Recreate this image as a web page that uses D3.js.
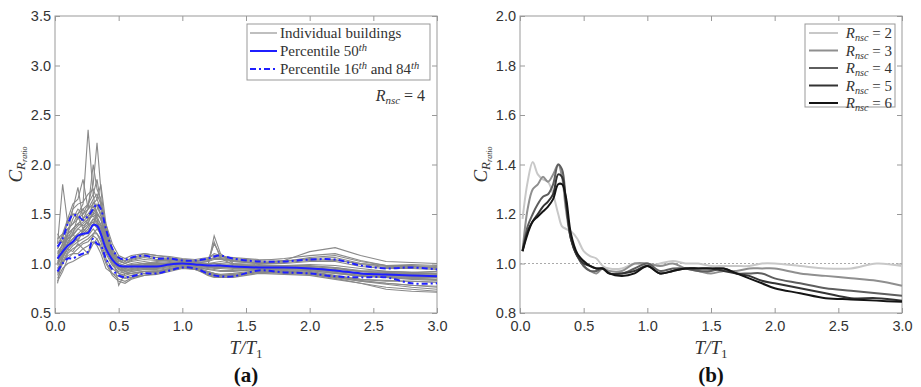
<!DOCTYPE html>
<html>
<head>
<meta charset="utf-8">
<script src="https://cdn.jsdelivr.net/npm/d3@7"></script>
<style>
  body { margin: 0; background: #fff; }
  svg { display: block; }
  .tick text { font-family: "Liberation Sans", Arial, sans-serif; font-size: 14.5px; fill: #333; }
  .tick line { stroke: #999; }
  text.serif, tspan { font-family: "Liberation Serif", "DejaVu Serif", serif; }
  text.serif { fill: #333; }
</style>
</head>
<body>
<svg id="chart" width="921" height="387"></svg>
<script>
// ---- panel (a) data ----
const tA = [0.02,0.06,0.1,0.14,0.18,0.22,0.26,0.3,0.33,0.36,0.4,0.45,0.5,0.55,0.6,0.7,0.8,0.9,1.0,1.1,1.2,1.25,1.3,1.4,1.6,1.8,2.0,2.2,2.4,2.6,2.8,3.0];

const buildings = [
  [1.10,1.20,1.35,1.40,1.50,1.60,2.35,1.70,1.45,1.30,1.15,1.05,0.98,0.95,0.96,0.98,0.98,1.00,1.02,1.00,0.99,1.00,0.98,0.96,0.95,0.96,0.95,0.92,0.90,0.88,0.87,0.86],
  [1.00,1.15,1.30,1.45,1.55,1.50,1.60,1.80,2.22,1.75,1.30,1.05,0.95,0.92,0.94,0.95,0.96,0.98,1.00,0.98,0.96,0.97,0.97,0.96,0.95,0.94,0.93,0.90,0.88,0.86,0.84,0.83],
  [1.20,1.80,1.40,1.50,1.45,1.55,1.45,1.50,1.60,1.50,1.25,1.10,1.05,1.03,1.05,1.08,1.06,1.04,1.03,1.02,1.04,1.06,1.05,1.03,1.00,1.02,1.05,1.06,1.00,0.97,0.97,0.96],
  [1.15,1.25,1.45,1.60,1.65,1.85,1.55,2.00,1.75,1.65,1.35,1.15,1.05,1.02,1.05,1.10,1.08,1.06,1.04,1.02,1.05,1.10,1.08,1.05,1.03,1.05,1.08,1.10,1.03,0.98,0.98,0.97],
  [0.80,1.10,1.30,1.55,1.77,1.45,1.55,1.60,1.65,1.80,1.40,1.12,0.98,0.92,0.93,0.95,0.95,0.97,0.98,0.97,0.94,0.95,0.95,0.94,0.93,0.92,0.90,0.86,0.82,0.80,0.78,0.77],
  [0.85,0.95,1.00,1.02,1.05,1.08,1.10,1.20,1.25,1.15,1.00,0.88,0.82,0.80,0.84,0.88,0.90,0.93,0.96,0.95,0.88,0.86,0.86,0.86,0.90,0.89,0.88,0.84,0.80,0.76,0.74,0.72],
  [0.90,1.05,1.15,1.20,1.25,1.30,1.35,1.45,1.40,1.35,1.20,1.05,0.95,0.93,0.95,0.96,0.96,0.98,1.00,0.98,0.97,1.28,1.10,1.00,0.97,0.97,0.96,0.94,0.92,0.90,0.90,0.89],
  [1.30,1.20,1.25,1.35,1.40,1.38,1.42,1.50,1.45,1.40,1.25,1.10,1.00,0.98,1.00,1.02,1.00,1.00,1.01,1.00,1.02,1.20,1.08,1.02,1.00,1.03,1.12,1.16,1.08,1.02,1.01,1.00],
  [1.00,1.10,1.20,1.25,1.30,1.35,1.30,1.40,1.50,1.45,1.20,1.00,0.90,0.86,0.88,0.92,0.93,0.95,0.97,0.96,0.92,0.90,0.88,0.89,0.92,0.93,0.92,0.88,0.84,0.82,0.82,0.81],
  [1.08,1.15,1.20,1.30,1.35,1.32,1.38,1.42,1.38,1.28,1.12,1.00,0.96,0.97,0.98,0.98,0.99,1.00,1.00,0.99,0.99,1.00,0.99,0.98,0.97,0.98,0.97,0.95,0.92,0.91,0.90,0.90],
  [1.25,1.30,1.35,1.40,1.45,1.50,1.55,1.65,1.70,1.60,1.40,1.20,1.08,1.05,1.08,1.10,1.08,1.07,1.05,1.04,1.06,1.08,1.07,1.06,1.04,1.03,1.04,1.03,1.00,0.98,0.99,0.98],
  [0.95,1.00,1.10,1.15,1.18,1.22,1.25,1.30,1.30,1.25,1.10,0.98,0.92,0.90,0.92,0.94,0.94,0.96,0.98,0.96,0.94,0.93,0.92,0.92,0.94,0.94,0.93,0.90,0.87,0.86,0.85,0.84],
  [1.05,1.20,1.30,1.35,1.40,1.45,1.40,1.55,1.50,1.45,1.30,1.10,0.78,0.90,0.92,0.94,0.95,0.97,0.99,0.97,0.95,0.94,0.93,0.93,0.94,0.95,0.94,0.91,0.88,0.86,0.85,0.84],
  [1.12,1.18,1.25,1.30,1.22,1.35,1.40,1.38,1.55,1.60,1.30,1.08,0.98,0.95,0.98,1.00,1.02,1.03,1.02,1.01,1.00,1.01,1.02,1.00,0.99,0.98,0.98,0.96,0.93,0.92,0.91,0.90],
  [0.98,1.08,1.15,1.12,1.20,1.15,1.10,1.30,1.35,1.30,1.15,1.02,0.94,0.90,0.90,0.92,0.92,0.95,0.97,0.96,0.92,0.90,0.89,0.90,0.93,0.92,0.91,0.87,0.83,0.80,0.78,0.76],
  [1.15,1.30,1.45,1.50,1.50,1.55,1.60,1.70,1.85,1.60,1.35,1.15,1.04,1.00,1.02,1.04,1.03,1.03,1.02,1.01,1.02,1.04,1.04,1.02,1.00,1.00,1.02,1.02,0.97,0.95,0.95,0.94],
  [0.88,1.00,1.08,1.10,1.10,1.15,1.18,1.22,1.18,1.10,0.95,0.90,0.87,0.85,0.86,0.88,0.89,0.92,0.95,0.94,0.89,0.87,0.86,0.87,0.91,0.90,0.89,0.85,0.80,0.74,0.72,0.71],
  [1.02,1.12,1.25,1.28,1.35,1.40,1.45,1.48,1.42,1.35,1.22,1.08,1.00,0.98,0.99,1.00,1.00,1.01,1.01,1.00,1.00,1.00,1.00,0.99,0.98,0.98,0.99,0.98,0.95,0.92,0.91,0.92],
  [1.18,1.22,1.30,1.35,1.40,1.45,1.50,1.58,1.52,1.45,1.28,1.12,1.02,1.00,1.03,1.06,1.04,1.04,1.03,1.02,1.03,1.05,1.06,1.04,1.02,1.01,1.03,1.04,0.99,0.96,0.96,0.95],
  [0.92,1.02,1.12,1.18,1.22,1.25,1.28,1.35,1.30,1.22,1.05,0.95,0.90,0.88,0.90,0.92,0.92,0.94,0.96,0.95,0.91,0.89,0.88,0.88,0.91,0.91,0.90,0.87,0.84,0.83,0.82,0.81],
  [1.10,1.15,1.28,1.32,1.38,1.42,1.48,1.52,1.48,1.38,1.20,1.06,0.98,0.96,0.98,1.00,1.01,1.02,1.01,1.00,0.98,0.97,0.97,0.97,0.97,0.97,0.96,0.93,0.89,0.87,0.86,0.86],
  [0.82,0.92,1.05,1.10,1.15,1.20,1.22,1.28,1.25,1.18,1.02,0.90,0.84,0.82,0.85,0.90,0.91,0.94,0.96,0.94,0.90,0.88,0.87,0.88,0.92,0.92,0.90,0.86,0.82,0.79,0.76,0.74],
  [1.20,1.28,1.40,1.55,1.60,1.62,1.70,1.75,1.65,1.55,1.32,1.12,1.03,1.00,1.04,1.07,1.06,1.05,1.04,1.03,1.04,1.05,1.05,1.03,1.01,1.02,1.06,1.08,1.02,0.98,0.97,0.96],
  [1.05,1.10,1.18,1.25,1.30,1.28,1.33,1.40,1.36,1.32,1.18,1.02,0.94,0.92,0.94,0.96,0.97,0.99,1.00,0.98,0.96,0.96,0.96,0.95,0.95,0.95,0.94,0.92,0.90,0.88,0.87,0.87],
  [0.95,1.05,1.22,1.30,1.48,1.35,1.45,1.62,1.58,1.48,1.25,1.06,0.97,0.95,0.97,0.99,0.99,1.00,1.00,0.99,0.98,1.22,1.05,0.99,0.97,0.96,0.97,0.96,0.92,0.90,0.89,0.88],
  [1.00,1.08,1.15,1.22,1.28,1.32,1.38,1.45,1.42,1.38,1.22,1.05,0.96,0.94,0.95,0.97,0.98,0.99,0.99,0.98,0.97,0.97,0.96,0.96,0.96,0.96,0.95,0.93,0.90,0.89,0.88,0.88]
];

const p50 = [1.05,1.12,1.18,1.22,1.28,1.30,1.31,1.39,1.38,1.30,1.15,1.04,0.98,0.97,0.97,0.97,0.97,0.99,1.00,0.99,0.98,0.98,0.98,0.97,0.96,0.96,0.95,0.93,0.90,0.89,0.88,0.87];
const p84 = [1.17,1.25,1.40,1.49,1.48,1.44,1.48,1.55,1.60,1.55,1.35,1.15,1.06,1.04,1.06,1.08,1.05,1.05,1.03,1.03,1.05,1.07,1.08,1.05,1.02,1.02,1.04,1.04,0.98,0.95,0.96,0.94];
const p16 = [0.92,1.00,1.05,1.05,1.08,1.10,1.12,1.25,1.20,1.18,1.05,0.94,0.88,0.86,0.87,0.90,0.90,0.93,0.96,0.95,0.90,0.88,0.87,0.87,0.93,0.91,0.90,0.87,0.86,0.86,0.80,0.80];

// ---- panel (b) data ----
const tB = [0.02,0.06,0.1,0.14,0.18,0.22,0.26,0.3,0.33,0.36,0.4,0.45,0.5,0.55,0.6,0.65,0.7,0.8,0.9,1.0,1.1,1.2,1.3,1.4,1.5,1.6,1.7,1.8,1.9,2.0,2.2,2.4,2.6,2.8,3.0];
const rnsc = [2, 3, 4, 5, 6];
const rnscColors = ['#c8c8c8', '#8f8f8f', '#5e5e5e', '#333333', '#141414'];
const rnscValues = [
  [1.18,1.33,1.41,1.36,1.34,1.33,1.28,1.20,1.15,1.14,1.13,1.10,1.05,1.03,1.02,0.99,0.98,0.98,1.00,0.99,1.00,1.01,1.00,1.00,0.99,0.99,0.99,0.99,1.00,1.00,0.99,0.98,0.98,1.00,0.99],
  [1.05,1.22,1.30,1.32,1.35,1.33,1.36,1.40,1.35,1.22,1.10,1.03,0.99,0.97,0.96,0.98,0.97,0.97,1.00,1.00,0.99,1.00,0.98,0.97,0.96,0.97,0.97,0.98,0.98,0.98,0.96,0.95,0.94,0.93,0.91],
  [1.05,1.15,1.20,1.24,1.27,1.28,1.32,1.40,1.38,1.26,1.10,1.03,0.99,0.97,0.97,0.98,0.96,0.96,0.98,1.00,0.97,0.98,0.98,0.97,0.97,0.98,0.96,0.96,0.96,0.94,0.92,0.90,0.89,0.88,0.87],
  [1.05,1.13,1.17,1.20,1.23,1.25,1.28,1.36,1.35,1.25,1.10,1.03,1.00,0.99,0.98,0.98,0.96,0.96,0.97,0.99,0.96,0.97,0.98,0.98,0.98,0.97,0.96,0.95,0.93,0.92,0.90,0.88,0.86,0.86,0.85],
  [1.05,1.12,1.17,1.19,1.21,1.23,1.26,1.32,1.32,1.27,1.12,1.04,1.01,0.99,0.98,0.98,0.96,0.95,0.96,0.99,0.96,0.97,0.98,0.98,0.98,0.98,0.96,0.94,0.92,0.90,0.88,0.86,0.855,0.85,0.845]
];

const xTicks = [0, 0.5, 1, 1.5, 2, 2.5, 3];
const yTicksA = [0.5, 1, 1.5, 2, 2.5, 3, 3.5];
const yTicksB = [0.8, 1, 1.2, 1.4, 1.6, 1.8, 2];

const svg = d3.select('#chart');
const blue = '#1f1fff';

function frame(left, right, yDomain, yTicks, label) {
  const x = d3.scaleLinear().domain([0, 3]).range([left, right]);
  const y = d3.scaleLinear().domain(yDomain).range([313, 16]);
  const g = svg.append('g');

  // 축 (안쪽 눈금, 네 변 모두)
  const fmt = d3.format('.1f');
  const ax = [
    [d3.axisBottom(x).tickValues(xTicks).tickFormat(fmt).tickPadding(8), `translate(0,${y.range()[0]})`],
    [d3.axisTop(x).tickValues(xTicks).tickFormat(''), `translate(0,${y.range()[1]})`],
    [d3.axisLeft(y).tickValues(yTicks).tickFormat(fmt).tickPadding(4), `translate(${left},0)`],
    [d3.axisRight(y).tickValues(yTicks).tickFormat(''), `translate(${right},0)`]
  ];
  ax.forEach(([a, t]) => {
    const s = g.append('g').attr('transform', t)
      .call(a.tickSizeInner(-5).tickSizeOuter(0));
    s.select('.domain').remove();
  });

  g.append('rect')
    .attr('x', left).attr('y', 16)
    .attr('width', right - left).attr('height', 297)
    .attr('fill', 'none').attr('stroke', '#999').attr('stroke-width', 1);

  // 축 제목
  const mid = (left + right) / 2;
  const xl = g.append('text').attr('class', 'serif')
    .attr('x', mid).attr('y', 354).attr('text-anchor', 'middle')
    .style('font-size', '19px').style('font-style', 'italic');
  xl.append('tspan').text('T/T');
  xl.append('tspan').attr('dy', 4).style('font-size', '13px').style('font-style', 'normal').text('1');

  const yl = g.append('text').attr('class', 'serif')
    .attr('transform', `translate(${left - 33},${(16 + 313) / 2}) rotate(-90)`)
    .attr('text-anchor', 'middle')
    .style('font-size', '19px').style('font-style', 'italic');
  yl.append('tspan').text('C');
  yl.append('tspan').attr('dy', 3).style('font-size', '13px').text('R');
  yl.append('tspan').attr('dy', 2).style('font-size', '8px').text('ratio');

  g.append('text').attr('class', 'serif')
    .attr('x', mid).attr('y', 382).attr('text-anchor', 'middle')
    .style('font-size', '21px').style('font-weight', 'bold').style('fill', '#111')
    .text(label);

  const plot = svg.append('g');
  return { x, y, g, plot };
}

function rnscText(sel, x, y, n, anchor, size) {
  const fs = size || 16;
  const t = sel.append('text').attr('class', 'serif')
    .attr('x', x).attr('y', y).attr('text-anchor', anchor || 'start')
    .style('font-size', fs + 'px');
  t.append('tspan').style('font-style', 'italic').text('R');
  t.append('tspan').attr('dy', 3).style('font-size', (fs * 0.68) + 'px').style('font-style', 'italic').text('nsc');
  t.append('tspan').attr('dy', -3).text(' = ' + n);
}

// ---- (a) ----
const A = frame(55, 437, [0.5, 3.5], yTicksA, '(a)');
const lineA = d3.line().x((d, i) => A.x(tA[i])).y(d => A.y(d));

A.plot.selectAll('.bld').data(buildings).enter().append('path')
  .attr('d', lineA).attr('fill', 'none')
  .attr('stroke', '#8a8a8a').attr('stroke-width', 1.1);

const smoothA = d3.line().x((d, i) => A.x(tA[i])).y(d => A.y(d)).curve(d3.curveCatmullRom);
[p84, p16].forEach(p => {
  A.plot.append('path').attr('d', smoothA(p)).attr('fill', 'none')
    .attr('stroke', blue).attr('stroke-width', 2).attr('stroke-dasharray', '6,3,2,3');
});
A.plot.append('path').attr('d', smoothA(p50)).attr('fill', 'none')
  .attr('stroke', blue).attr('stroke-width', 2);

// 범례 (a)
const legA = svg.append('g');
legA.append('rect').attr('x', 247).attr('y', 24).attr('width', 183).attr('height', 56)
  .attr('fill', '#fff').attr('stroke', '#999');
const legItemsA = [
  { stroke: '#8a8a8a', w: 1.1, dash: null },
  { stroke: blue, w: 2, dash: null },
  { stroke: blue, w: 2, dash: '6,3,2,3' }
];
legItemsA.forEach((it, i) => {
  const yy = 33 + i * 18;
  legA.append('line').attr('x1', 250).attr('x2', 277).attr('y1', yy).attr('y2', yy)
    .attr('stroke', it.stroke).attr('stroke-width', it.w).attr('stroke-dasharray', it.dash);
});
legA.append('text').attr('class', 'serif').attr('x', 280).attr('y', 38)
  .style('font-size', '15px').text('Individual buildings');
const l2 = legA.append('text').attr('class', 'serif').attr('x', 280).attr('y', 56).style('font-size', '15px');
l2.append('tspan').text('Percentile 50');
l2.append('tspan').attr('dy', -5).style('font-size', '10.5px').style('font-style', 'italic').text('th');
const l3 = legA.append('text').attr('class', 'serif').attr('x', 280).attr('y', 74).style('font-size', '15px');
l3.append('tspan').text('Percentile 16');
l3.append('tspan').attr('dy', -5).style('font-size', '10.5px').style('font-style', 'italic').text('th');
l3.append('tspan').attr('dy', 5).text(' and 84');
l3.append('tspan').attr('dy', -5).style('font-size', '10.5px').style('font-style', 'italic').text('th');

rnscText(svg, 425, 101, 4, 'end', 16);

// ---- (b) ----
const B = frame(520, 902, [0.8, 2.0], yTicksB, '(b)');
B.plot.append('line')
  .attr('x1', B.x(0)).attr('x2', B.x(3)).attr('y1', B.y(1)).attr('y2', B.y(1))
  .attr('stroke', '#aaa').attr('stroke-width', 1).attr('stroke-dasharray', '2,2');

const lineB = d3.line().x((d, i) => B.x(tB[i])).y(d => B.y(d)).curve(d3.curveCatmullRom);
B.plot.selectAll('.rn').data(rnscValues).enter().append('path')
  .attr('d', lineB).attr('fill', 'none')
  .attr('stroke', (d, i) => rnscColors[i]).attr('stroke-width', 2);

const legB = svg.append('g');
legB.append('rect').attr('x', 805).attr('y', 24).attr('width', 90).attr('height', 83)
  .attr('fill', '#fff').attr('stroke', '#999');
rnsc.forEach((n, i) => {
  const yy = 33 + i * 17.5;
  legB.append('line').attr('x1', 809).attr('x2', 838).attr('y1', yy).attr('y2', yy)
    .attr('stroke', rnscColors[i]).attr('stroke-width', 2);
  rnscText(legB, 892, yy + 5, n, 'end', 15);
});
</script>
</body>
</html>
